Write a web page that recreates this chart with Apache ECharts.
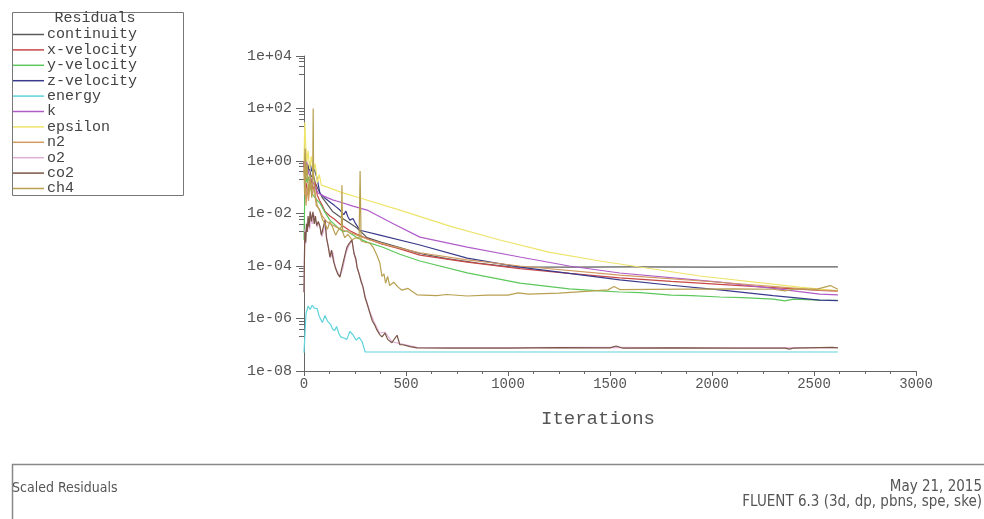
<!DOCTYPE html>
<html>
<head>
<meta charset="utf-8">
<script src="https://cdn.jsdelivr.net/npm/echarts@6/dist/echarts.min.js"></script>
<style>
  html, body { margin: 0; padding: 0; background: #fff; }
  #chart { width: 984px; height: 519px; }
</style>
</head>
<body>
<div id="chart"></div>
<script>
// residual histories, [iteration, scaled residual]
var continuity = [[0,1],[5,0.4],[10,0.9],[18,0.35],[25,0.6],[35,0.25],[45,0.3],[55,0.15],[70,0.08],[90,0.04],[110,0.025],[140,0.012],[176,0.0075],[220,0.0045],[260,0.0028],[309,0.0012],[380,0.0008],[470,0.0005],[568,0.0003],[700,0.00019],[850,0.00013],[1010,0.000092],[1300,0.000091],[1600,0.000092],[2000,0.000091],[2300,0.000093],[2617,0.000093]];
var xVelocity = [[0,1],[5,0.05],[10,0.15],[18,0.06],[25,0.12],[35,0.2],[45,0.08],[55,0.15],[65,0.05],[78,0.03],[90,0.02],[103,0.012],[127,0.008],[150,0.006],[176,0.004],[200,0.003],[225,0.0022],[260,0.0016],[309,0.0011],[380,0.0007],[470,0.00045],[568,0.00026],[800,0.00014],[1058,0.00008],[1300,0.000052],[1548,0.000035],[1800,0.000026],[2038,0.00002],[2300,0.000015],[2528,0.0000118],[2617,0.000011]];
var yVelocity = [[0,0.001],[3,0.02],[8,0.3],[15,0.15],[22,0.25],[30,0.1],[44,0.05],[60,0.035],[78,0.025],[100,0.012],[127,0.0056],[160,0.0032],[191,0.002],[210,0.0022],[225,0.0018],[260,0.0012],[309,0.00081],[387,0.00052],[470,0.00028],[568,0.000155],[800,0.000055],[1058,0.0000224],[1300,0.0000135],[1450,0.0000112],[1548,0.0000102],[1650,0.0000096],[1800,0.0000078],[1900,0.0000074],[2038,0.0000066],[2150,0.0000062],[2300,0.0000055],[2357,0.0000047],[2400,0.0000055],[2528,0.000005],[2617,0.0000049]];
var zVelocity = [[0,1],[5,0.3],[12,0.8],[20,0.5],[29,0.9],[38,0.4],[50,0.5],[64,0.22],[78,0.06],[100,0.04],[127,0.0275],[150,0.02],[176,0.0135],[195,0.009],[205,0.0125],[215,0.0075],[225,0.0056],[240,0.0065],[250,0.0045],[274,0.0023],[372,0.0015],[568,0.00063],[800,0.0002],[1058,0.000091],[1300,0.000052],[1548,0.0000295],[1800,0.0000185],[2038,0.0000123],[2300,0.0000075],[2528,0.000005],[2617,0.0000048]];
var energy = [[0,0.00000005],[5,0.0000003],[10,0.0000015],[20,0.000003],[30,0.0000022],[40,0.0000032],[50,0.0000025],[64,0.0000024],[75,0.0000012],[90,0.0000007],[103,0.0000013],[115,0.0000008],[130,0.0000006],[140,0.0000004],[150,0.00000035],[160,0.0000005],[170,0.00000028],[180,0.0000002],[195,0.00000018],[210,0.00000016],[225,0.00000032],[240,0.00000024],[255,0.00000015],[270,0.00000019],[285,0.00000013],[300,0.000000053],[2617,0.000000053]];
var k = [[0,1],[5,0.6],[12,1.1],[20,0.4],[30,0.25],[45,0.15],[60,0.08],[69,0.06],[100,0.045],[140,0.033],[176,0.0275],[240,0.019],[309,0.0135],[440,0.004],[568,0.00126],[800,0.00052],[1058,0.00022],[1300,0.0001],[1548,0.000054],[2038,0.0000245],[2300,0.000014],[2528,0.0000085],[2617,0.0000079]];
var epsilon = [[0,1],[4,30],[8,5],[14,0.9],[20,2.5],[28,0.5],[36,1.5],[45,0.35],[55,0.8],[65,0.15],[75,0.3],[85,0.12],[100,0.11],[127,0.093],[180,0.065],[274,0.039],[470,0.0135],[715,0.0033],[960,0.00098],[1200,0.00034],[1450,0.000155],[1940,0.0000417],[2430,0.0000158],[2617,0.0000112]];
var n2 = [[0,1],[5,0.2],[10,0.02],[15,0.1],[22,0.03],[30,0.15],[40,0.05],[50,0.1],[60,0.02],[75,0.015],[90,0.008],[110,0.005],[130,0.004],[160,0.003],[200,0.0022],[260,0.0015],[320,0.001],[420,0.0006],[568,0.00032],[800,0.00017],[1058,0.0001],[1548,0.000045],[2038,0.000024],[2528,0.000012],[2617,0.0000115]];
var o2 = [[0,0.00001],[4,0.0025],[9,0.0007],[13,0.0045],[18,0.002],[22,0.007],[28,0.0025],[33,0.01],[40,0.004],[48,0.009],[56,0.006],[64,0.003],[72,0.0045],[80,0.003],[88,0.0013],[96,0.0022],[105,0.005],[112,0.001],[120,0.0005],[130,0.0002],[140,0.00035],[150,0.00012],[160,0.00007],[176,0.00004],[190,0.00008],[205,0.0003],[220,0.0006],[235,0.0009],[248,0.00025],[262,0.00008],[280,0.00003],[300,0.000007],[323,0.0000018],[345,0.0000007],[370,0.00000028],[397,0.0000003],[431,0.00000013],[470,0.00000011],[554,0.00000008],[1000,0.000000078],[1500,0.00000008],[2000,0.000000077],[2617,0.000000078]];
var co2 = [[0,0.00001],[4,0.002],[8,0.0008],[12,0.004],[16,0.002],[20,0.008],[25,0.003],[30,0.012],[36,0.005],[44,0.0115],[50,0.004],[56,0.008],[62,0.0035],[70,0.005],[78,0.0032],[85,0.0015],[92,0.0025],[103,0.0056],[110,0.0012],[118,0.0006],[127,0.00022],[135,0.0004],[145,0.00015],[155,0.00008],[165,0.00005],[176,0.000038],[183,0.00007],[191,0.00007],[200,0.00025],[210,0.0005],[220,0.0007],[235,0.001],[245,0.0003],[255,0.00018],[260,0.00009],[270,0.00005],[280,0.000025],[289,0.000016],[300,0.000006],[310,0.0000035],[323,0.0000016],[335,0.0000008],[345,0.0000006],[358,0.00000036],[370,0.00000025],[382,0.0000002],[397,0.00000028],[410,0.00000016],[431,0.00000012],[456,0.00000023],[470,0.0000001],[485,0.0000001],[520,0.000000085],[554,0.000000076],[700,0.000000075],[1000,0.000000074],[1250,0.000000078],[1500,0.000000076],[1530,0.00000009],[1560,0.000000075],[1800,0.000000076],[2100,0.000000075],[2357,0.000000074],[2380,0.000000068],[2400,0.000000075],[2590,0.00000008],[2617,0.000000076]];
var ch4 = [[0,0.5],[3,0.05],[6,3],[10,0.2],[15,0.8],[22,0.05],[30,0.3],[38,0.04],[43,0.5],[45,100],[47,0.3],[55,0.05],[65,0.02],[78,0.012],[90,0.006],[103,0.004],[115,0.0025],[127,0.005],[140,0.003],[155,0.0015],[170,0.0025],[183,0.003],[186,0.12],[189,0.002],[200,0.0012],[215,0.0016],[235,0.001],[255,0.0012],[270,0.0011],[275,0.42],[280,0.0009],[300,0.0008],[323,0.00075],[340,0.0005],[358,0.00025],[372,0.00013],[382,0.00004],[392,0.00005],[400,0.000022],[410,0.00004],[420,0.000018],[440,0.000024],[460,0.000016],[480,0.000012],[510,0.000014],[554,0.000008],[650,0.0000075],[700,0.0000082],[800,0.0000072],[900,0.0000078],[1000,0.0000078],[1050,0.0000095],[1100,0.0000085],[1250,0.0000093],[1400,0.000011],[1490,0.0000123],[1520,0.0000165],[1550,0.0000125],[1700,0.0000128],[1900,0.0000132],[2100,0.0000135],[2300,0.000013],[2357,0.0000112],[2400,0.000013],[2520,0.0000135],[2580,0.000018],[2617,0.000013]];

var names = ['continuity', 'x-velocity', 'y-velocity', 'z-velocity', 'energy', 'k', 'epsilon', 'n2', 'o2', 'co2', 'ch4'];
var histories = [continuity, xVelocity, yVelocity, zVelocity, energy, k, epsilon, n2, o2, co2, ch4];
var colors = ['#5a5a5a', '#c84848', '#5cc85c', '#3a3a8c', '#5fd3dc', '#b05cc8', '#eee46a', '#d09a60', '#e0b0d8', '#7a5646', '#b8a050'];
var xTicks = [0, 3000, 500];

var mono = '"Liberation Mono", "DejaVu Sans Mono", monospace';
var narrow = '"DejaVu Sans Condensed", "Liberation Sans Narrow", sans-serif';

function expLabel(v) {
    var e = Math.round(Math.log(v) / Math.LN10);
    var s = e < 0 ? '-' : '+';
    var a = Math.abs(e);
    return '1e' + s + (a < 10 ? '0' + a : a);
}

var chart = echarts.init(document.getElementById('chart'), null, { renderer: 'canvas' });

var series = names.map(function (n, i) {
    return {
        name: n,
        type: 'line',
        data: histories[i],
        showSymbol: false,
        symbol: 'none',
        animation: false,
        lineStyle: { width: 1.2, color: colors[i] },
        itemStyle: { color: colors[i] },
        z: 2
    };
});

chart.setOption({
    backgroundColor: '#fff',
    animation: false,
    color: colors,
    grid: { left: 304, right: 68, top: 56, bottom: 148 },
    legend: {
        orient: 'vertical',
        left: 7,
        top: 22,
        icon: 'rect',
        itemWidth: 32,
        itemHeight: 1.5,
        itemGap: 0.4,
        selectedMode: false,
        data: names,
        textStyle: { fontFamily: mono, fontSize: 15, lineHeight: 15, color: '#444', padding: [0, 0, 0, -2] }
    },
    xAxis: {
        type: 'value',
        min: xTicks[0],
        max: xTicks[1],
        interval: xTicks[2],
        name: 'Iterations',
        nameLocation: 'middle',
        nameGap: 38,
        nameTextStyle: { fontFamily: mono, fontSize: 19, color: '#555', padding: [0, 24, 0, 0] },
        axisLine: { lineStyle: { color: '#666', width: 1 } },
        axisTick: { length: 5, lineStyle: { color: '#666' } },
        minorTick: { show: true, splitNumber: 4, length: 3, lineStyle: { color: '#666' } },
        splitLine: { show: false },
        axisLabel: { fontFamily: mono, fontSize: 14, color: '#555', margin: 6, formatter: function (v) { return String(v); } }
    },
    yAxis: {
        type: 'log',
        logBase: 100,
        min: 1e-8,
        max: 1e4,
        axisLine: { show: true, lineStyle: { color: '#666', width: 1 } },
        axisTick: { show: true, length: 8, lineStyle: { color: '#666' } },
        minorTick: { show: true, splitNumber: 5, length: 5, lineStyle: { color: '#666' } },
        splitLine: { show: false },
        axisLabel: { fontFamily: mono, fontSize: 15, color: '#555', margin: 12, formatter: expLabel }
    },
    graphic: [
        { type: 'rect', left: 10, top: 10, z: 100, shape: { width: 171, height: 183 },
          style: { fill: null, stroke: '#777', lineWidth: 1 } },
        { type: 'text', x: 95, y: 18, z: 100,
          style: { text: 'Residuals', fontFamily: mono, fontSize: 15, fill: '#444', textAlign: 'center', textVerticalAlign: 'middle' } },
        { type: 'rect', left: 10, top: 462, z: 100, shape: { width: 990, height: 80 },
          style: { fill: null, stroke: '#888', lineWidth: 1.5 } },
        { type: 'text', x: 12, y: 488, z: 100,
          style: { text: 'Scaled Residuals', fontFamily: narrow, fontSize: 14, fill: '#555', textVerticalAlign: 'middle' } },
        { type: 'text', x: 982, y: 487, z: 100,
          style: { text: 'May 21, 2015', fontFamily: narrow, fontSize: 15, fill: '#555', textAlign: 'right', textVerticalAlign: 'middle' } },
        { type: 'text', x: 982, y: 502, z: 100,
          style: { text: 'FLUENT 6.3 (3d, dp, pbns, spe, ske)', fontFamily: narrow, fontSize: 15, fill: '#555', textAlign: 'right', textVerticalAlign: 'middle' } }
    ],
    series: series
});
</script>
</body>
</html>
